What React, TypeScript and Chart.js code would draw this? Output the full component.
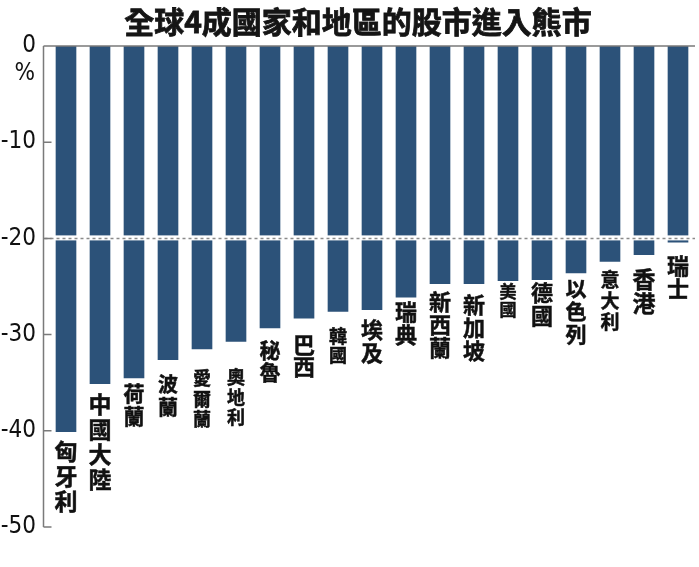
import React, { useEffect, useRef } from "react";
import { Chart, registerables } from "chart.js";

Chart.register(...registerables);

const title = "全球4成國家和地區的股市進入熊市";
const categories = [
  "匈牙利", "中國大陸", "荷蘭", "波蘭", "愛爾蘭", "奧地利", "秘魯", "巴西", "韓國", "埃及",
  "瑞典", "新西蘭", "新加坡", "美國", "德國", "以色列", "意大利", "香港", "瑞士",
];
const changes = [
  -40.1, -35.1, -34.5, -32.6, -31.5, -30.7, -29.3, -28.3, -27.6, -27.4,
  -26.1, -24.7, -24.7, -24.4, -24.3, -23.6, -22.4, -21.7, -20.4,
];
const yTicks = [0, -10, -20, -30, -40, -50];
const thresholdLine = -20;

// label styles: [font size, char pitch, gap below bar]
const labelStyles: [number, number, number][] = [
  [23, 25, 10], [23, 25, 11], [21, 23, 7], [20, 23, 17], [18, 20.5, 22],
  [18, 20, 29], [21, 22, 14], [22, 22, 18], [18, 19, 17], [22, 23, 11],
  [22, 23, 6], [22, 23, 9], [22, 23, 12], [17, 18, 4], [22, 23, 4],
  [21, 23, 7], [19, 21, 11], [23, 24, 15], [22, 23, 15],
];

const CJK = '"Noto Sans CJK TC", "Noto Sans CJK SC", sans-serif';
const NARROW = '"Liberation Sans Narrow", "DejaVu Sans Condensed", "Liberation Sans", sans-serif';

const decorPlugin = {
  id: "decor",
  afterDatasetsDraw(chart: any) {
    const { ctx, chartArea } = chart;
    const y = chart.scales.y;
    const axisX = chartArea.left - 5.5;
    ctx.save();
    // threshold line
    const ty = y.getPixelForValue(thresholdLine);
    ctx.fillStyle = "#ffffff";
    ctx.fillRect(axisX + 1, ty - 3, chartArea.right - axisX, 5);
    ctx.strokeStyle = "#8a8a8a";
    ctx.lineWidth = 1.5;
    ctx.setLineDash([3, 3]);
    ctx.beginPath();
    ctx.moveTo(axisX + 1, ty);
    ctx.lineTo(chartArea.right, ty);
    ctx.stroke();
    ctx.setLineDash([]);
    // axes
    ctx.strokeStyle = "#7a7a7a";
    ctx.lineWidth = 1.5;
    ctx.beginPath();
    ctx.moveTo(axisX, y.getPixelForValue(0));
    ctx.lineTo(chartArea.right, y.getPixelForValue(0));
    ctx.moveTo(axisX, y.getPixelForValue(0));
    ctx.lineTo(axisX, y.getPixelForValue(-50));
    yTicks.forEach((t) => {
      if (t === 0) return;
      const py = y.getPixelForValue(t);
      ctx.moveTo(axisX, py);
      ctx.lineTo(axisX + 8, py);
    });
    ctx.stroke();
    // % unit
    ctx.fillStyle = "#111";
    ctx.font = `24px ${NARROW}`;
    ctx.textAlign = "right";
    ctx.textBaseline = "middle";
    ctx.fillText("%", 35, 74);
    // title
    ctx.font = `bold 30px ${CJK}`;
    ctx.textAlign = "center";
    ctx.textBaseline = "middle";
    ctx.fillStyle = "#151515";
    ctx.strokeStyle = "#151515";
    ctx.lineWidth = 0.8;
    ctx.fillText(title, 358, 22);
    ctx.strokeText(title, 358, 22);
    // bar labels
    const meta = chart.getDatasetMeta(0);
    ctx.lineWidth = 0.5;
    meta.data.forEach((bar: any, i: number) => {
      const [size, pitch, gap] = labelStyles[i];
      ctx.font = `bold ${size}px ${CJK}`;
      ctx.textAlign = "center";
      ctx.textBaseline = "top";
      ctx.fillStyle = "#111";
      ctx.strokeStyle = "#111";
      const chars = Array.from(categories[i]);
      chars.forEach((c, k) => {
        const py = bar.y + gap - size * 0.1 + k * pitch;
        ctx.fillText(c, bar.x, py);
        ctx.strokeText(c, bar.x, py);
      });
    });
    ctx.restore();
  },
};

export default function App() {
  const ref = useRef<HTMLCanvasElement>(null);
  useEffect(() => {
    document.body.style.margin = "0";
    const chart = new Chart(ref.current!, {
      type: "bar",
      data: {
        labels: categories,
        datasets: [
          {
            data: changes,
            backgroundColor: "#2c5279",
            barThickness: 20,
          },
        ],
      },
      options: {
        animation: false,
        responsive: false,
        layout: { padding: { top: 46, right: 4, bottom: 40, left: 0 } },
        plugins: { legend: { display: false }, tooltip: { enabled: false }, title: { display: false } },
        scales: {
          x: { display: false, offset: true },
          y: {
            min: -50,
            max: 0,
            afterFit: (s: any) => {
              s.width = 49;
            },
            afterBuildTicks: (s: any) => {
              s.ticks = yTicks.map((v) => ({ value: v }));
            },
            grid: { display: false, drawTicks: false },
            border: { display: false },
            ticks: {
              padding: 13,
              color: "#111",
              font: { family: NARROW, size: 24 },
            },
          },
        },
      },
      plugins: [decorPlugin],
    });
    return () => chart.destroy();
  }, []);
  return <canvas ref={ref} width={699} height={567} style={{ display: "block" }} />;
}
